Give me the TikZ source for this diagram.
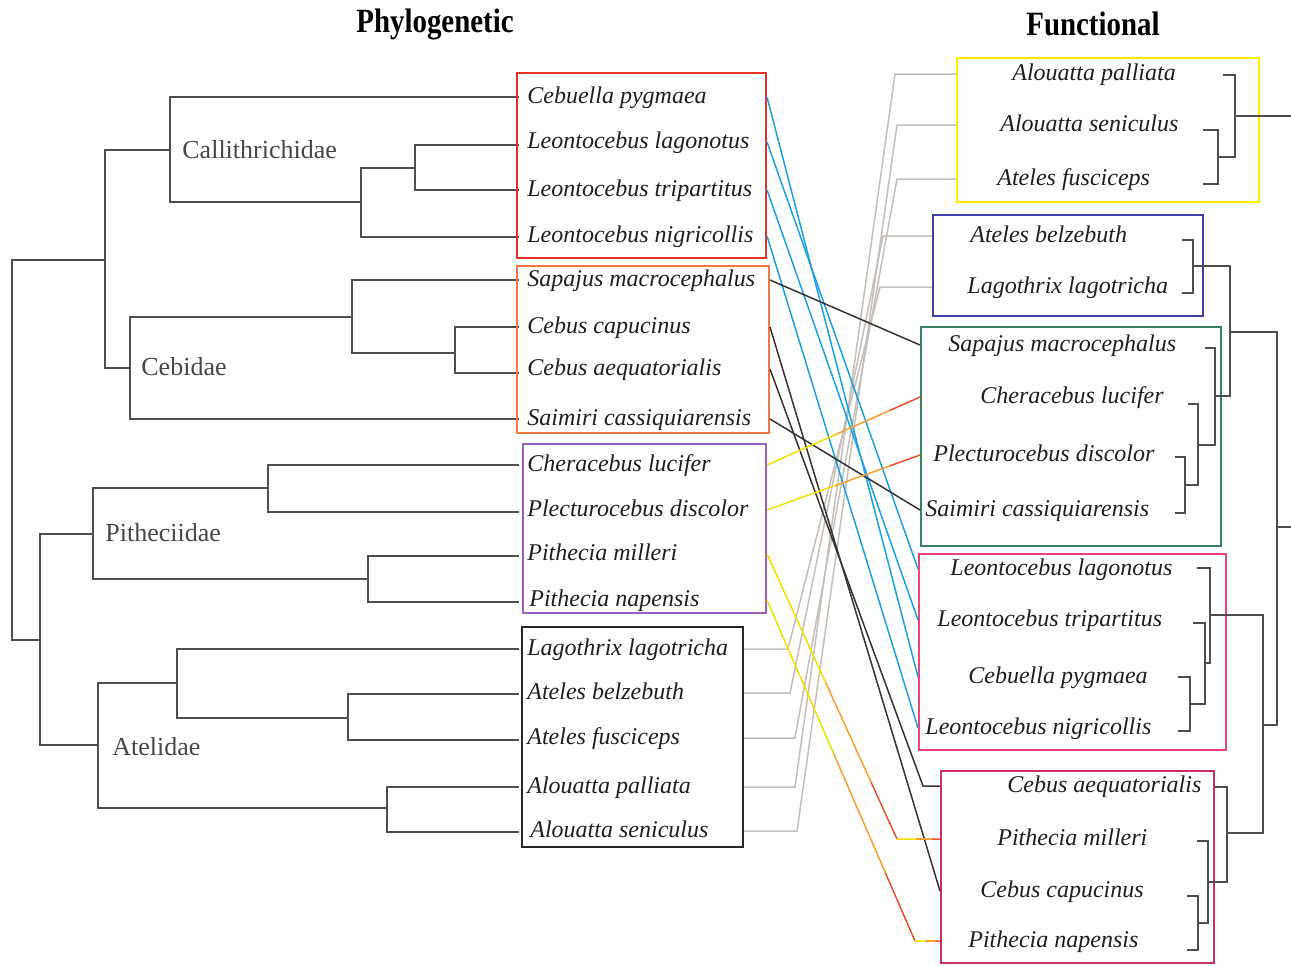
\documentclass[tikz,border=0pt]{standalone}
\usepackage{fontspec}
\setmainfont{Liberation Serif}
\usetikzlibrary{fit,calc}
\definecolor{treegray}{HTML}{4E4E4E}
\definecolor{cyanl}{HTML}{1BA1E2}
\definecolor{cebd}{HTML}{3A3232}
\definecolor{atelg}{HTML}{C6BEB8}
\definecolor{pyel}{HTML}{F2E000}
\definecolor{porg}{HTML}{F5A030}
\definecolor{pred}{HTML}{EE5030}
\definecolor{bred}{HTML}{E8302A}
\definecolor{borg}{HTML}{F07844}
\definecolor{bpur}{HTML}{9B5FC0}
\definecolor{byel}{HTML}{FFF000}
\definecolor{bind}{HTML}{4040A8}
\definecolor{bgrn}{HTML}{3A8060}
\definecolor{bpnk}{HTML}{E8457A}
\definecolor{bcrm}{HTML}{C8306A}
\tikzset{sp/.style={anchor=west,inner sep=0pt,font=\fontsize{12}{14}\selectfont\itshape,text=black!88,text height=9pt,text depth=3pt},
  fam/.style={anchor=west,inner sep=0pt,font=\fontsize{13}{15}\selectfont,text=black!72},
  ttl/.style={inner sep=0pt,font=\fontsize{17}{20}\selectfont\bfseries},
  tree/.style={draw=treegray,line width=0.8pt},
  grp/.style={inner sep=0pt,line width=1pt},
  cal/.style={draw=cyanl,line width=0.75pt},
  ceb/.style={draw=cebd,line width=0.75pt},
  atl/.style={draw=atelg,line width=0.75pt},
  pit/.style={line width=0.75pt}}
\newcommand{\gradseg}[2]{%
  \draw[pit,draw=pyel] (#1) -- ($(#1)!0.45!(#2)$);
  \draw[pit,draw=porg] ($(#1)!0.45!(#2)$) -- ($(#1)!0.8!(#2)$);
  \draw[pit,draw=pred] ($(#1)!0.8!(#2)$) -- (#2);}

\begin{document}
\begin{tikzpicture}[x=0.5pt,y=-0.5pt]
    \useasboundingbox[fill=white] (0,0) rectangle (1291,965);

    \node[ttl] (t1) at (435,24) {\scalebox{0.85}[1]{Phylogenetic}};
    \node[ttl] (t2) at (1093,24) {\scalebox{0.85}[1]{Functional}};

    \draw[tree] (519,97) -| (170,202) -- (361,202);
    \draw[tree] (415,168) -| (361,237) -- (519,237);
    \draw[tree] (519,145) -| (415,190) -- (519,190);
    \draw[tree] (170,150) -| (105,368) -- (130,368);
    \draw[tree] (352,317) -| (130,419) -- (519,419);
    \draw[tree] (519,280) -| (352,353) -- (455,353);
    \draw[tree] (519,327) -| (455,373) -- (519,373);
    \draw[tree] (105,260) -| (12,640) -- (40,640);
    \draw[tree] (93,534) -| (40,745) -- (98,745);
    \draw[tree] (268,488) -| (93,579) -- (368,579);
    \draw[tree] (519,465) -| (268,512) -- (519,512);
    \draw[tree] (519,556) -| (368,602) -- (519,602);
    \draw[tree] (177,683) -| (98,808) -- (387,808);
    \draw[tree] (519,649) -| (177,718) -- (348,718);
    \draw[tree] (519,694) -| (348,740) -- (519,740);
    \draw[tree] (519,787) -| (387,832) -- (519,832);

    \node[fam] (c1) at (182,150) {Callithrichidae};
    \node[fam] (c2) at (141,367) {Cebidae};
    \node[fam] (c3) at (105,533) {Pitheciidae};
    \node[fam] (c4) at (112,747) {Atelidae};

    \node[grp,draw=bred,fit={(517,73) (766,258)}] (redbox) {};
    \node[grp,draw=borg,fit={(517,266) (769,433)}] (orgbox) {};
    \node[grp,draw=bpur,fit={(523,444) (766,613)}] (purbox) {};
    \node[grp,draw=black!85,fit={(522,627) (743,847)}] (blkbox) {};

    \node[sp] (p1) at (527,97) {Cebuella pygmaea};
    \node[sp] (p2) at (527,142) {Leontocebus lagonotus};
    \node[sp] (p3) at (527,190) {Leontocebus tripartitus};
    \node[sp] (p4) at (527,236) {Leontocebus nigricollis};
    \node[sp] (p5) at (527,280) {Sapajus macrocephalus};
    \node[sp] (p6) at (527,327) {Cebus capucinus};
    \node[sp] (p7) at (527,369) {Cebus aequatorialis};
    \node[sp] (p8) at (527,419) {Saimiri cassiquiarensis};
    \node[sp] (p9) at (527,465) {Cheracebus lucifer};
    \node[sp] (p10) at (527,510) {Plecturocebus discolor};
    \node[sp] (p11) at (527,554) {Pithecia milleri};
    \node[sp] (p12) at (529,600) {Pithecia napensis};
    \node[sp] (p13) at (527,649) {Lagothrix lagotricha};
    \node[sp] (p14) at (527,693) {Ateles belzebuth};
    \node[sp] (p15) at (527,738) {Ateles fusciceps};
    \node[sp] (p16) at (527,787) {Alouatta palliata};
    \node[sp] (p17) at (530,831) {Alouatta seniculus};

    \node[grp,draw=byel,fit={(957,58) (1259,202)}] (yelbox) {};
    \node[grp,draw=bind,fit={(933,215) (1203,316)}] (indbox) {};
    \node[grp,draw=bgrn,fit={(921,327) (1221,546)}] (grnbox) {};
    \node[grp,draw=bpnk,fit={(919,554) (1226,750)}] (pnkbox) {};
    \node[grp,draw=bcrm,fit={(941,771) (1214,963)}] (crmbox) {};

    \node[sp] (f1) at (1012,74) {Alouatta palliata};
    \node[sp] (f2) at (1000,125) {Alouatta seniculus};
    \node[sp] (f3) at (997,179) {Ateles fusciceps};
    \node[sp] (f4) at (970,236) {Ateles belzebuth};
    \node[sp] (f5) at (967,287) {Lagothrix lagotricha};
    \node[sp] (f6) at (948,345) {Sapajus macrocephalus};
    \node[sp] (f7) at (980,397) {Cheracebus lucifer};
    \node[sp] (f8) at (933,455) {Plecturocebus discolor};
    \node[sp] (f9) at (925,510) {Saimiri cassiquiarensis};
    \node[sp] (f10) at (950,569) {Leontocebus lagonotus};
    \node[sp] (f11) at (937,620) {Leontocebus tripartitus};
    \node[sp] (f12) at (968,677) {Cebuella pygmaea};
    \node[sp] (f13) at (925,728) {Leontocebus nigricollis};
    \node[sp] (f14) at (1007,786) {Cebus aequatorialis};
    \node[sp] (f15) at (997,839) {Pithecia milleri};
    \node[sp] (f16) at (980,891) {Cebus capucinus};
    \node[sp] (f17) at (968,941) {Pithecia napensis};

    \draw[tree] (1223,75) -| (1235,157) -- (1218,157);
    \draw[tree] (1203,130) -| (1218,184) -- (1203,184);
    \draw[tree] (1235,116) -- (1291,116);
    \draw[tree] (1182,240) -| (1193,293) -- (1182,293);
    \draw[tree] (1193,266) -| (1230,396) -- (1215,396);
    \draw[tree] (1205,348) -| (1215,445) -- (1198,445);
    \draw[tree] (1188,404) -| (1198,485) -- (1185,485);
    \draw[tree] (1175,457) -| (1185,513) -- (1175,513);
    \draw[tree] (1230,332) -| (1277,725) -- (1263,725);
    \draw[tree] (1277,527) -- (1291,527);
    \draw[tree] (1197,568) -| (1210,663) -- (1205,663);
    \draw[tree] (1193,623) -| (1205,704) -- (1190,704);
    \draw[tree] (1178,677) -| (1190,731) -- (1178,731);
    \draw[tree] (1210,615) -| (1263,833) -- (1227,833);
    \draw[tree] (1215,787) -| (1227,882) -- (1208,882);
    \draw[tree] (1197,841) -| (1208,923) -- (1198,923);
    \draw[tree] (1187,896) -| (1198,950) -- (1187,950);

    \draw[atl] (blkbox.east |- p13) -- (788,0 |- p13) -- (880,0 |- f5) -- (indbox.west |- f5);
    \draw[atl] (blkbox.east |- p14) -- (790,0 |- p14) -- (883,0 |- f4) -- (indbox.west |- f4);
    \draw[atl] (blkbox.east |- p15) -- (795,0 |- p15) -- (897,0 |- f3) -- (yelbox.west |- f3);
    \draw[atl] (blkbox.east |- p16) -- (795,0 |- p16) -- (895,0 |- f1) -- (yelbox.west |- f1);
    \draw[atl] (blkbox.east |- p17) -- (797,0 |- p17) -- (897,0 |- f2) -- (yelbox.west |- f2);

    \draw[cal] (redbox.east |- p1) -- (pnkbox.west |- f12);
    \draw[cal] (redbox.east |- p2) -- (pnkbox.west |- f10);
    \draw[cal] (redbox.east |- p3) -- (pnkbox.west |- f11);
    \draw[cal] (redbox.east |- p4) -- (pnkbox.west |- f13);

    \draw[ceb] (orgbox.east |- p5) -- (grnbox.west |- f6);
    \draw[ceb] (orgbox.east |- p8) -- (grnbox.west |- f9);
    \draw[ceb] (orgbox.east |- p6) -- (crmbox.west |- f16);
    \draw[ceb] (orgbox.east |- p7) -- (923,0 |- f14) -- (crmbox.west |- f14);

    \coordinate (m1) at (897,0 |- f15);
    \coordinate (m2) at (915,0 |- f17);
    \gradseg{purbox.east |- p9}{grnbox.west |- f7}
    \gradseg{purbox.east |- p10}{grnbox.west |- f8}
    \gradseg{purbox.east |- p11}{m1}
    \gradseg{m1}{crmbox.west |- f15}
    \gradseg{purbox.east |- p12}{m2}
    \gradseg{m2}{crmbox.west |- f17}
\end{tikzpicture}
\end{document}
